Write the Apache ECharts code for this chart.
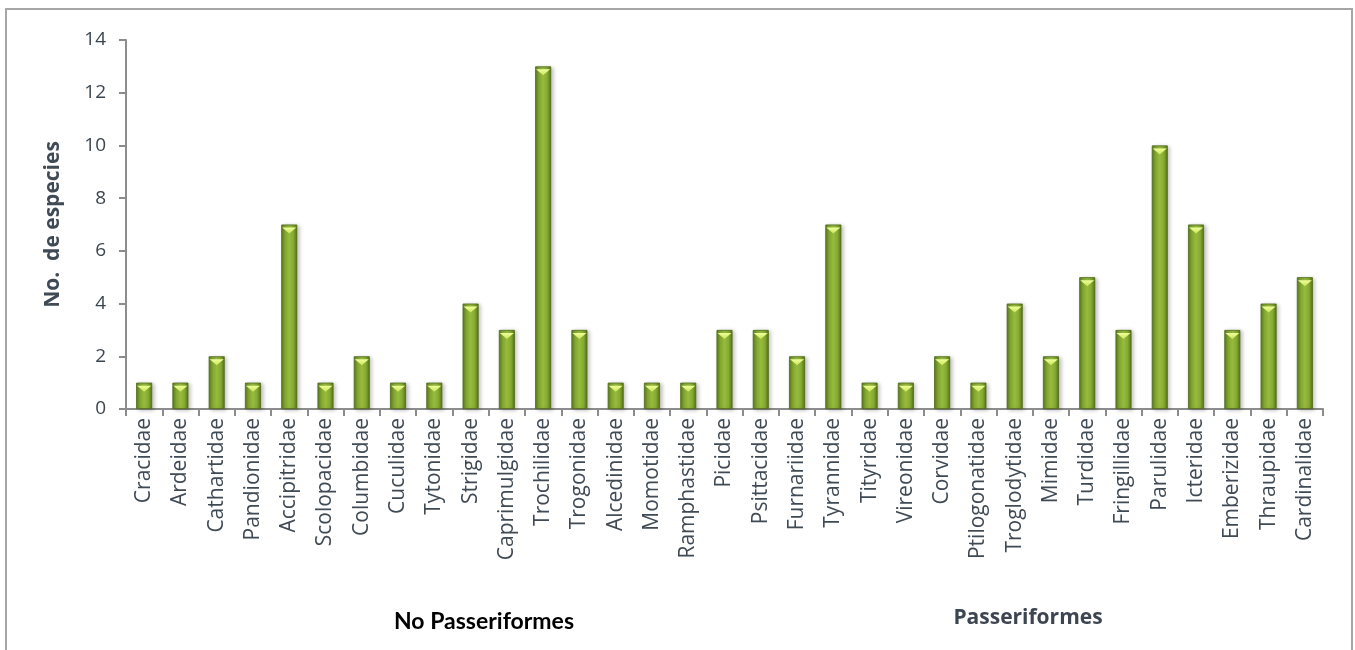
<!DOCTYPE html>
<html><head><meta charset="utf-8">
<script src="https://cdn.jsdelivr.net/npm/echarts@6/dist/echarts.min.js"></script>
<style>html,body{margin:0;padding:0;background:#fff}#c{width:1355px;height:650px}</style>
</head><body><div id="c"></div>
<script>
const categories = ['Cracidae','Ardeidae','Cathartidae','Pandionidae','Accipitridae','Scolopacidae','Columbidae','Cuculidae','Tytonidae','Strigidae','Caprimulgidae','Trochilidae','Trogonidae','Alcedinidae','Momotidae','Ramphastidae','Picidae','Psittacidae','Furnariidae','Tyrannidae','Tityridae','Vireonidae','Corvidae','Ptilogonatidae','Troglodytidae','Mimidae','Turdidae','Fringillidae','Parulidae','Icteridae','Emberizidae','Thraupidae','Cardinalidae'];
const species = [1,1,2,1,7,1,2,1,1,4,3,13,3,1,1,1,3,3,2,7,1,1,2,1,4,2,5,3,10,7,3,4,5];
const yTicks = [0,2,4,6,8,10,12,14];
const groupLabels = ['No Passeriformes','Passeriformes'];

const chart = echarts.init(document.getElementById('c'));
const axisColor = '#8c8c8c';
const textColor = '#3c4650';
chart.setOption({
  animation:false,
  graphic:[
    {type:'rect', shape:{x:6,y:9,width:1346,height:660}, style:{fill:'none',stroke:'#a6a6a6',lineWidth:2}, z:-1},
    {type:'text', x:484, y:622, style:{text:groupLabels[0], font:'bold 23px Lato, sans-serif', fill:'#000', textAlign:'center', textVerticalAlign:'middle'}},
    {type:'text', x:1028, y:618, style:{text:groupLabels[1], font:'bold 21px "Open Sans", sans-serif', fill:'#3d4650', textAlign:'center', textVerticalAlign:'middle'}}
  ],
  grid:{left:126, top:40, right:32, bottom:241, containLabel:false},
  xAxis:{
    type:'category', data:categories,
    axisLine:{lineStyle:{color:axisColor,width:2}},
    axisTick:{show:true, length:7, lineStyle:{color:axisColor,width:2}},
    axisLabel:{rotate:90, interval:0, margin:9, color:'#404a55', fontSize:21, fontFamily:'"Open Sans", sans-serif'}
  },
  yAxis:{
    type:'value', min:0, max:14, interval:2,
    name:'No.  de especies', nameLocation:'middle', nameGap:62, nameRotate:90,
    nameTextStyle:{fontSize:21, fontWeight:'bold', color:'#404a55', fontFamily:'"Open Sans", sans-serif'},
    axisLine:{show:true, lineStyle:{color:axisColor,width:2}},
    axisTick:{show:true, length:7, lineStyle:{color:axisColor,width:2}},
    splitLine:{show:false},
    axisLabel:{margin:20, color:textColor, fontSize:19, fontFamily:'"Open Sans", sans-serif',
      formatter:v=>yTicks.indexOf(v)>=0?String(v):''}
  },
  series:[
    {type:'bar', data:species, barWidth:16, z:2,
     itemStyle:{
       color:new echarts.graphic.LinearGradient(0,0,1,0,[
         {offset:0,color:'#5b7a1c'},{offset:0.25,color:'#86ab32'},{offset:0.5,color:'#97bb3e'},{offset:0.75,color:'#86ab32'},{offset:1,color:'#56731a'}]),
       borderColor:'#4e6a16', borderWidth:0.8,
       shadowColor:'rgba(0,0,0,0.25)', shadowBlur:4, shadowOffsetX:2, shadowOffsetY:1
     }},
    {type:'pictorialBar', data:species, symbol:'path://M0,0 L10,0 L5,4 Z', symbolSize:[14,6],
     symbolPosition:'end', symbolOffset:[0,'50%'], z:3, barGap:'-100%',
     itemStyle:{color:new echarts.graphic.LinearGradient(0,0,0,1,[{offset:0,color:'#f0ff9a'},{offset:1,color:'#c8e65a'}])}}
  ]
});
</script></body></html>
